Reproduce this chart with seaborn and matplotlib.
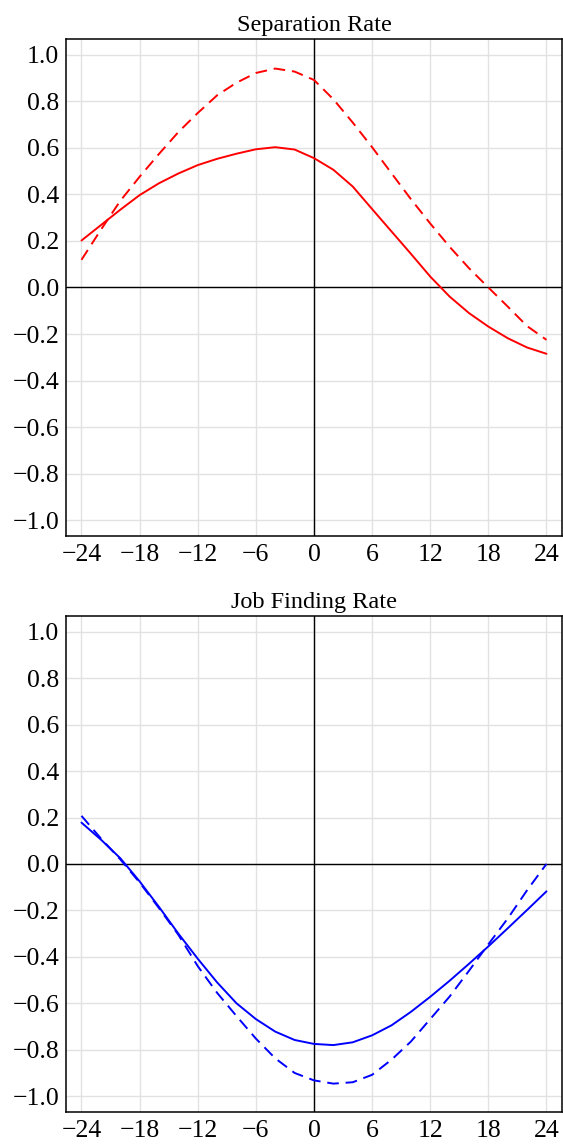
import matplotlib
matplotlib.use("Agg")
import matplotlib.pyplot as plt
import seaborn as sns

# ---- data ----
months = [-24, -22, -20, -18, -16, -14, -12, -10, -8, -6, -4, -2, 0,
          2, 4, 6, 8, 10, 12, 14, 16, 18, 20, 22, 24]

sep_solid = [0.202, 0.268, 0.334, 0.397, 0.448, 0.490, 0.526, 0.553, 0.575, 0.594,
             0.603, 0.593, 0.556, 0.506, 0.434, 0.337, 0.241, 0.145, 0.047,
             -0.039, -0.110, -0.168, -0.218, -0.258, -0.285]
sep_dashed = [0.119, 0.248, 0.372, 0.476, 0.574, 0.668, 0.750, 0.826, 0.880, 0.922,
              0.941, 0.928, 0.892, 0.809, 0.709, 0.603, 0.491, 0.380, 0.275,
              0.175, 0.083, 0.000, -0.082, -0.166, -0.225]

job_solid = [0.178, 0.105, 0.025, -0.075, -0.185, -0.300, -0.408, -0.510, -0.600,
             -0.668, -0.722, -0.758, -0.775, -0.780, -0.768, -0.738, -0.695,
             -0.637, -0.572, -0.503, -0.430, -0.355, -0.277, -0.198, -0.118]
job_dashed = [0.207, 0.110, 0.020, -0.080, -0.190, -0.305, -0.440, -0.555, -0.655,
              -0.752, -0.837, -0.900, -0.932, -0.946, -0.940, -0.908, -0.843,
              -0.765, -0.668, -0.571, -0.460, -0.346, -0.235, -0.113, 0.000]

titles = ["Separation Rate", "Job Finding Rate"]
xticks = [-24, -18, -12, -6, 0, 6, 12, 18, 24]
yticks = [-1.0, -0.8, -0.6, -0.4, -0.2, 0.0, 0.2, 0.4, 0.6, 0.8, 1.0]

sns.set_theme(style="white")
plt.rcParams["font.family"] = ["Liberation Serif", "DejaVu Serif"]

fig = plt.figure(figsize=(5.63, 11.44), dpi=100)
ax1 = fig.add_axes([0.1172, 0.5315, 0.881, 0.4344])
ax2 = fig.add_axes([0.1172, 0.0280, 0.881, 0.4336])

panels = [
    (ax1, sep_solid, sep_dashed, "#ff0000", titles[0]),
    (ax2, job_solid, job_dashed, "#0000ff", titles[1]),
]

for ax, solid, dashed, col, title in panels:
    ax.set_axisbelow(True)
    ax.grid(True, color="#e2e2e2", linewidth=1.0)
    ax.axhline(0, color="black", linewidth=1.0, zorder=1.5)
    ax.axvline(0, color="black", linewidth=1.0, zorder=1.5)
    sns.lineplot(x=months, y=solid, ax=ax, color=col, linewidth=1.4)
    sns.lineplot(x=months, y=dashed, ax=ax, color=col, linewidth=1.4,
                 linestyle=(0, (6, 3.5)))
    ax.set_xlim(-25.6, 25.6)
    ax.set_ylim(-1.068, 1.068)
    ax.set_xticks(xticks)
    ax.set_yticks(yticks)
    ax.set_xticklabels([f"{t}".replace("-", "\u2212") for t in xticks])
    ax.set_yticklabels([f"{t:.1f}".replace("-", "\u2212") for t in yticks])
    ax.tick_params(axis="both", direction="in", length=7, width=1.0,
                   labelsize=18.5, colors="black", pad=5)
    ax.tick_params(axis="x", pad=6)
    ax.tick_params(top=False, right=False)
    for s in ax.spines.values():
        s.set_visible(True)
        s.set_color("black")
        s.set_linewidth(1.1)
    ax.set_title(title, fontsize=17.5, pad=6, color="black")
    ax.set_xlabel("")
    ax.set_ylabel("")

fig.savefig("out.png", dpi=100)
